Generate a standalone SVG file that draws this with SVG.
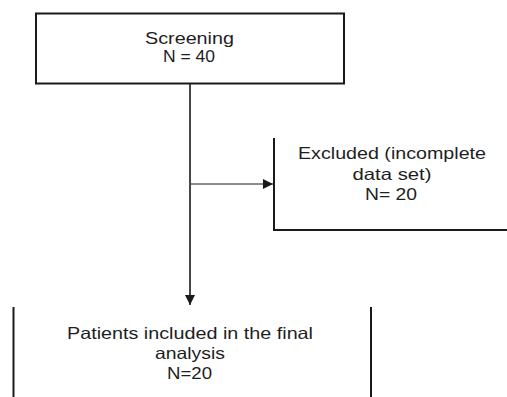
<svg xmlns="http://www.w3.org/2000/svg" width="507" height="397" viewBox="0 0 507 397">
<style>
.box{fill:none;stroke:#1a1a1a;stroke-width:2}
.t{font-family:"Liberation Sans",Arial,sans-serif;font-size:16.5px;fill:#1e1e1e;text-anchor:middle}
.c{stroke:#1a1a1a;fill:none}
</style>
<defs>
<marker id="ah" viewBox="0 0 10 10" refX="10" refY="5" markerWidth="10" markerHeight="10" markerUnits="userSpaceOnUse" orient="auto">
<path d="M0,0 L10,5 L0,10 Z" fill="#1a1a1a"/>
</marker>
</defs>
<rect width="507" height="397" fill="#fff"/>
<g id="screening">
<rect class="box" x="36" y="13.5" width="308" height="70"/>
<text class="t" x="189.5" y="44" textLength="89" lengthAdjust="spacingAndGlyphs">Screening</text>
<text class="t" x="189" y="62" textLength="52" lengthAdjust="spacingAndGlyphs">N = 40</text>
</g>
<g id="excluded">
<path class="box" d="M274,138 V230 H510"/>
<text class="t" x="392" y="159" textLength="188" lengthAdjust="spacingAndGlyphs">Excluded (incomplete</text>
<text class="t" x="392" y="180" textLength="79" lengthAdjust="spacingAndGlyphs">data set)</text>
<text class="t" x="391" y="200" textLength="52" lengthAdjust="spacingAndGlyphs">N= 20</text>
</g>
<g id="included">
<path class="box" d="M13.5,307 V397 M371,307 V397"/>
<text class="t" x="190" y="339" textLength="246" lengthAdjust="spacingAndGlyphs">Patients included in the final</text>
<text class="t" x="190" y="359" textLength="70" lengthAdjust="spacingAndGlyphs">analysis</text>
<text class="t" x="189.5" y="379" textLength="45" lengthAdjust="spacingAndGlyphs">N=20</text>
</g>
<g id="connectors">
<line class="c" x1="190" y1="84" x2="190" y2="305" stroke-width="1.6" marker-end="url(#ah)"/>
<line class="c" x1="191" y1="184" x2="273" y2="184" stroke-width="1" stroke="#444" marker-end="url(#ah)"/>
</g>
</svg>
